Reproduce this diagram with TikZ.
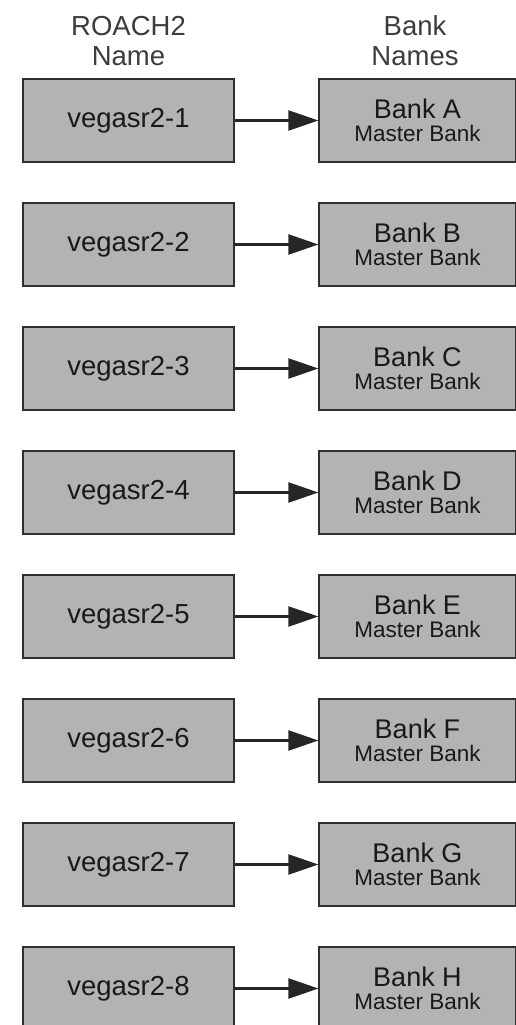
\documentclass[tikz,border=0pt]{standalone}
\usepackage{fontspec}
\setmainfont{Liberation Sans}
\usetikzlibrary{arrows.meta,positioning}

\definecolor{boxgray}{HTML}{B3B3B3}
\definecolor{edgegray}{HTML}{2E2E2E}
\definecolor{headgray}{HTML}{3C3C3C}

\tikzset{
  roachbox/.style={draw=edgegray, fill=boxgray, line width=1.2pt,
    minimum width=211pt, minimum height=83pt, inner sep=0pt,
    text=black!90, font=\fontsize{27.5}{30}\selectfont},
  bankbox/.style={roachbox, minimum width=197pt, align=center,
    font=\fontsize{27}{26}\selectfont},
  feed/.style={-{Triangle[length=30pt,width=20pt]}, line width=2.2pt, draw=black!85},
  header/.style={align=center, text=headgray, font=\fontsize{27.5}{30}\selectfont}
}
\newcommand{\master}{\\[-3pt]{\fontsize{22.5}{22}\selectfont Master Bank}}

\begin{document}
\begin{tikzpicture}[x=1pt, y=-1pt]

  \useasboundingbox (0,0) rectangle (516,1025);

  % --- titoli ---
  \node[header] (hroach) at (128.5, 41) {ROACH2\\Name};
  \node[header] (hbank)  at (415, 41) {Bank\\Names};

  % --- riga 1 ---
  \node[roachbox] (r1) at (128.5, 120.5) {vegasr2-1};
  \node[bankbox]  (b1) at (417.5, 120.5) {Bank A\master};
  \draw[feed] (r1) -- (b1);

  % --- riga 2 ---
  \node[roachbox] (r2) at (128.5, 244.5) {vegasr2-2};
  \node[bankbox]  (b2) at (417.5, 244.5) {Bank B\master};
  \draw[feed] (r2) -- (b2);

  % --- riga 3 ---
  \node[roachbox] (r3) at (128.5, 368.5) {vegasr2-3};
  \node[bankbox]  (b3) at (417.5, 368.5) {Bank C\master};
  \draw[feed] (r3) -- (b3);

  % --- riga 4 ---
  \node[roachbox] (r4) at (128.5, 492.5) {vegasr2-4};
  \node[bankbox]  (b4) at (417.5, 492.5) {Bank D\master};
  \draw[feed] (r4) -- (b4);

  % --- riga 5 ---
  \node[roachbox] (r5) at (128.5, 616.5) {vegasr2-5};
  \node[bankbox]  (b5) at (417.5, 616.5) {Bank E\master};
  \draw[feed] (r5) -- (b5);

  % --- riga 6 ---
  \node[roachbox] (r6) at (128.5, 740.5) {vegasr2-6};
  \node[bankbox]  (b6) at (417.5, 740.5) {Bank F\master};
  \draw[feed] (r6) -- (b6);

  % --- riga 7 ---
  \node[roachbox] (r7) at (128.5, 864.5) {vegasr2-7};
  \node[bankbox]  (b7) at (417.5, 864.5) {Bank G\master};
  \draw[feed] (r7) -- (b7);

  % --- riga 8 (tagliata in basso) ---
  \node[roachbox] (r8) at (128.5, 988.5) {vegasr2-8};
  \node[bankbox]  (b8) at (417.5, 988.5) {Bank H\master};
  \draw[feed] (r8) -- (b8);

\end{tikzpicture}
\end{document}
